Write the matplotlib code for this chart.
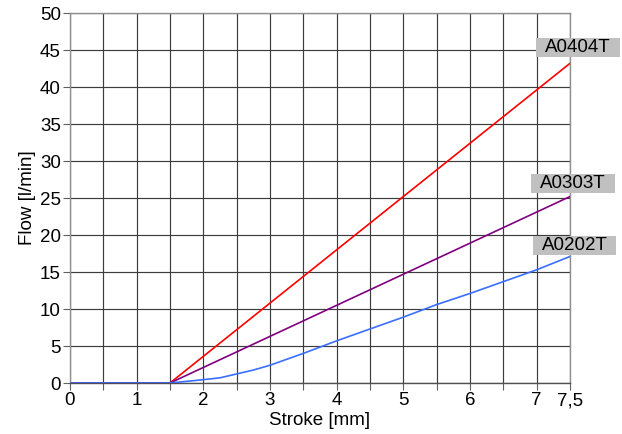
import numpy as np
import matplotlib.pyplot as plt
from matplotlib.patches import Rectangle

plt.rcParams['font.family'] = ['Liberation Sans', 'DejaVu Sans']

# stroke [mm] vs flow [l/min]
x_red = [0.0, 1.5, 7.5]
y_red = [0.0, 0.0, 43.2]

x_purple = [0.0, 1.5, 7.5]
y_purple = [0.0, 0.0, 25.2]

x_blue = [0.0, 1.5, 2.0, 2.25, 2.75, 3.0, 3.5, 4.0, 4.5, 5.0, 5.5, 6.0, 6.5, 7.0, 7.5]
y_blue = [0.0, 0.0, 0.45, 0.7, 1.75, 2.4, 4.0, 5.7, 7.3, 8.9, 10.6, 12.1, 13.7, 15.3, 17.1]

series_names = ['A0404T', 'A0303T', 'A0202T']

x_ticks = np.arange(0, 7.51, 0.5)
x_ticklabels = ['0', '', '1', '', '2', '', '3', '', '4', '', '5', '', '6', '', '7', '7,5']
y_ticks = np.arange(0, 51, 5)

fig = plt.figure(figsize=(6.22, 4.34), dpi=100)
ax = fig.add_axes([0.1125, 0.1175, 0.8039, 0.8525])

ax.set_xlim(0, 7.5)
ax.set_ylim(0, 50)
ax.set_xticks(x_ticks)
ax.set_xticklabels(x_ticklabels)
ax.set_yticks(y_ticks)
ax.tick_params(labelsize=13.5, length=5, width=0.8, color='#606060', pad=1.5)
ax.grid(True, color='#3c3c3c', linewidth=0.85)
ax.set_axisbelow(True)
for s in ax.spines.values():
    s.set_color('#909090')
    s.set_linewidth(1.0)
ax.spines['bottom'].set_color('#505050')

ax.plot(x_red, y_red, color='#ff0000', lw=1.2, zorder=3)
ax.plot(x_purple, y_purple, color='#800080', lw=1.2, zorder=3)
ax.plot(x_blue, y_blue, color='#3a6eff', lw=1.2, zorder=4)

# label boxes at right end
lab_x = [7.62, 7.545, 7.57]
lab_y = [45.3, 27.0, 18.6]
bw, bh = 1.245, 2.57
for name, lx, ly in zip(series_names, lab_x, lab_y):
    ax.add_patch(Rectangle((lx - bw / 2, ly - bh / 2), bw, bh, facecolor='#c0c0c0',
                           edgecolor='none', clip_on=False, zorder=5))
    ax.text(lx, ly, name, ha='center', va='center', fontsize=13.5, zorder=6, clip_on=False)

ax.set_xlabel('Stroke [mm]', fontsize=13.5, labelpad=2)
ax.set_ylabel('Flow [l/min]', fontsize=13.5, labelpad=3)

fig.savefig('out.png', dpi=100)
